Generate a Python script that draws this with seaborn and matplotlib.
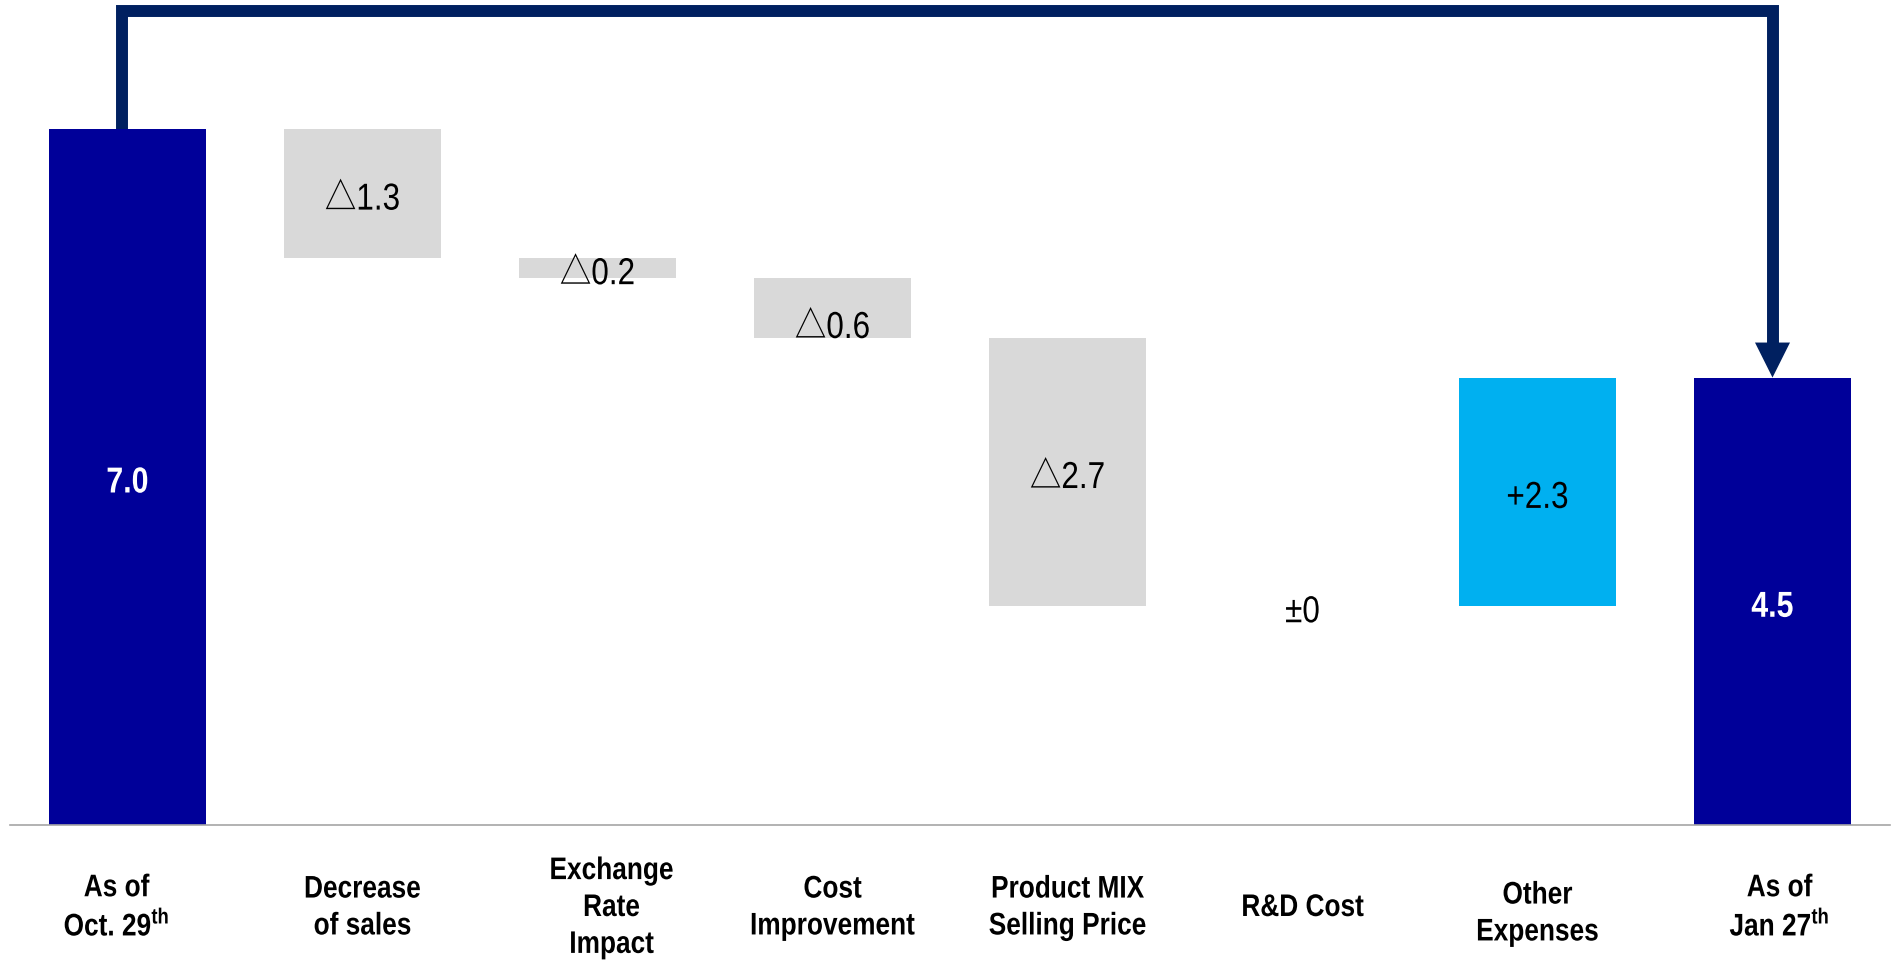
import matplotlib
matplotlib.use("Agg")
import matplotlib.pyplot as plt
from matplotlib import font_manager
from matplotlib.patches import Polygon
from matplotlib.patheffects import AbstractPathEffect
from matplotlib.transforms import Affine2D
import numpy as np
import pandas as pd
import seaborn as sns

# ---- data -------------------------------------------------------------
steps = ["As of\nOct. 29$^{\\mathregular{th}}$", "Decrease\nof sales",
         "Exchange\nRate\nImpact", "Cost\nImprovement",
         "Product MIX\nSelling Price", "R&D Cost", "Other\nExpenses",
         "As of\nJan 27$^{\\mathregular{th}}$"]
start_value = 7.0
deltas = [-1.3, -0.2, -0.6, -2.7, 0.0, 2.3]
end_value = 4.5

# ---- style ------------------------------------------------------------
sns.set_style("white")


def pick_family(*names):
    for n in names:
        try:
            font_manager.findfont(font_manager.FontProperties(family=n),
                                  fallback_to_default=False)
            return n
        except Exception:
            continue
    return "DejaVu Sans"


NARROW = pick_family("Liberation Sans Narrow", "Arial Narrow")
if NARROW == "DejaVu Sans":
    BASE = pick_family("Liberation Sans", "Arial")
    SQUEEZE = 0.84
else:
    BASE = NARROW
    SQUEEZE = 1.0
FAMILY = [BASE, "Noto Sans CJK JP", "DejaVu Sans"]
plt.rcParams["font.family"] = FAMILY

TOTAL_C = "#000099"
DOWN_C = "#D9D9D9"
UP_C = "#00B0F0"
ARROW_C = "#002060"
AXIS_C = "#A6A6A6"


class Condense(AbstractPathEffect):
    """Squeeze each drawn text line horizontally about its own centre."""

    def __init__(self, sx):
        super().__init__()
        self.sx = sx

    def draw_path(self, renderer, gc, tpath, affine, rgbFace=None):
        ext = tpath.get_extents(affine)
        cx = (ext.x0 + ext.x1) / 2
        aff = affine + Affine2D().translate(-cx, 0).scale(self.sx, 1).translate(cx, 0)
        renderer.draw_path(gc, tpath, aff, rgbFace)


narrow_fx = [Condense(SQUEEZE)]

# ---- waterfall geometry ----------------------------------------------
levels = np.concatenate([[start_value], start_value + np.cumsum(deltas)])
bottoms, heights, colors, labels = [0.0], [start_value], [TOTAL_C], [f"{start_value:.1f}"]
for i, d in enumerate(deltas):
    bottoms.append(min(levels[i], levels[i + 1]))
    heights.append(abs(d))
    if d < 0:
        colors.append(DOWN_C)
        labels.append(f"\u25B3{abs(d):.1f}")
    elif d > 0:
        colors.append(UP_C)
        labels.append(f"+{d:.1f}")
    else:
        colors.append("none")
        labels.append("\u00B10")
bottoms.append(0.0)
heights.append(end_value)
colors.append(TOTAL_C)
labels.append(f"{end_value:.1f}")

df = pd.DataFrame({"step": steps, "height": heights, "bottom": bottoms})

# ---- figure -----------------------------------------------------------
W, H = 1899, 960
fig = plt.figure(figsize=(W / 100, H / 100), dpi=100)
ax = fig.add_axes([10 / W, 135 / H, 1880 / W, 825 / H])

sns.barplot(data=df, x="step", y="height", order=steps,
            bottom=df["bottom"].to_numpy(), width=0.665, color=DOWN_C,
            saturation=1, errorbar=None, linewidth=0, ax=ax)
for patch, c in zip(ax.patches, colors):
    patch.set_facecolor(c)
    patch.set_edgecolor("none")

ax.set_xlim(-0.5, len(steps) - 0.5)
ax.set_ylim(0, 8.297)
ax.set_xlabel("")
ax.set_ylabel("")
ax.set_yticks([])
ax.set_xticks(np.arange(len(steps)))
ax.set_xticklabels([])
ax.set_xticks(np.arange(len(steps) + 1) - 0.5, minor=True)
ax.tick_params(axis="x", which="major", length=0)
ax.tick_params(axis="x", which="minor", direction="in", length=8,
               width=1.2, color=AXIS_C)
for side in ("top", "left", "right"):
    ax.spines[side].set_visible(False)
ax.spines["bottom"].set_color(AXIS_C)
ax.spines["bottom"].set_linewidth(1.2)

# category labels below the axis (text boxes sit slightly off-centre)
cat_nudge_px = {0: (-11, 0), 2: (14, 0), 6: (0, -6), 7: (7, 0)}
for i, s in enumerate(steps):
    nx, ny = cat_nudge_px.get(i, (0, 0))
    ax.annotate(s, xy=(i, 0), xycoords=("data", "axes fraction"),
                xytext=(nx, -83 + ny), textcoords="offset pixels",
                ha="center", va="center", fontsize=22.5, fontweight="bold",
                family=FAMILY, linespacing=1.3, color="black",
                annotation_clip=False, path_effects=narrow_fx)

# value labels (the small cost-improvement block carries its label low)
label_nudge_px = {3: -14}
for i, (b, h, lab) in enumerate(zip(bottoms, heights, labels)):
    y = b + h / 2 if h > 0 else levels[i - 1]
    dy = -6 + label_nudge_px.get(i, 0)
    is_total = colors[i] == TOTAL_C
    ax.annotate(lab, xy=(i, y), xytext=(0, dy), textcoords="offset pixels",
                ha="center", va="center",
                fontsize=26 if is_total else 27,
                fontweight="bold" if is_total else "normal",
                color="white" if is_total else "black",
                family=FAMILY, path_effects=narrow_fx)

# bracket arrow from the opening total to the closing total
top_y = 8.19
head_h = 0.352
head_hw = 0.0745
x0, x1 = 0 - 0.025, len(steps) - 1
ax.plot([x0, x0, x1, x1], [start_value, top_y, top_y, end_value + head_h],
        color=ARROW_C, lw=8.6, solid_joinstyle="miter",
        solid_capstyle="butt", clip_on=False, zorder=3)
ax.add_patch(Polygon([[x1 - head_hw, end_value + head_h],
                      [x1 + head_hw, end_value + head_h],
                      [x1, end_value]], closed=True,
                     facecolor=ARROW_C, edgecolor="none", zorder=3,
                     clip_on=False))

fig.savefig("out.png", dpi=100, facecolor="white")
